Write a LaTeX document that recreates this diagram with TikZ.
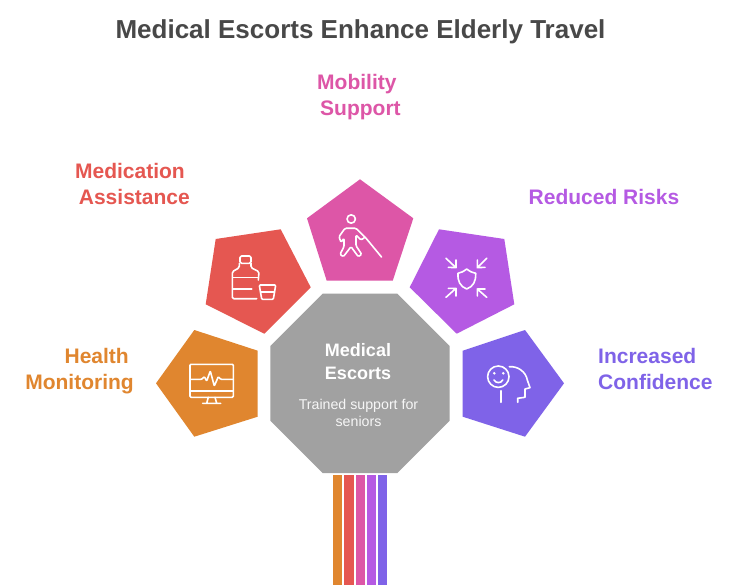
\documentclass[tikz,border=0pt]{standalone}
\usepackage{fontspec}
\setmainfont{Liberation Sans}
\definecolor{titlegray}{RGB}{72, 72, 72}
\definecolor{hubgray}{RGB}{161, 161, 161}
\definecolor{healthorange}{RGB}{224, 134, 47}
\definecolor{medred}{RGB}{229, 87, 81}
\definecolor{mobilitypink}{RGB}{221, 86, 167}
\definecolor{risksviolet}{RGB}{181, 90, 227}
\definecolor{confidenceblue}{RGB}{127, 99, 232}
\begin{document}
\begin{tikzpicture}[
    x=1pt, y=-1pt,
    labeltext/.style={font=\fontsize{21}{26}\selectfont\bfseries, text=#1, inner sep=0pt},
    icon/.style={draw=white, line width=1.6pt, line cap=round, line join=round}
]
    \useasboundingbox (0,0) rectangle (738,585);
    \fill[white] (0,0) rectangle (738,585);

    \node[font=\fontsize{26}{32}\selectfont\bfseries, text=titlegray, inner sep=0pt] (title) at (360.5,32) {Medical Escorts Enhance Elderly Travel};

    % centre octagon
    \fill[hubgray] (322.7,293.7) -- (397.3,293.7) -- (449.7,346) -- (449.7,420.7) -- (397.3,473) -- (322.7,473) -- (270.3,420.7) -- (270.3,346) -- cycle;
    \node[font=\fontsize{18}{23}\selectfont\bfseries, text=white, align=center, inner sep=0pt] (hub) at (358,362) {Medical\\Escorts};
    \node[font=\fontsize{14.2}{17.5}\selectfont, text=white!90!hubgray, align=center, inner sep=0pt] (hubtext) at (358.5,413) {Trained support for\\seniors};

    % pentagons
    \fill[healthorange] (194.3,330) -- (257.7,350.7) -- (257.7,416.7) -- (194.3,436.7) -- (156,383.3) -- cycle;
    \fill[medred] (215.7,239) -- (280.7,229.3) -- (310.7,287.3) -- (264.3,333.7) -- (205.7,304.3) -- cycle;
    \fill[mobilitypink] (360,179.3) -- (413.3,218.3) -- (392.7,280.7) -- (326.7,280.7) -- (307,218.3) -- cycle;
    \fill[risksviolet] (439,229.3) -- (504.3,239) -- (514.3,304.3) -- (456.7,333.7) -- (409.7,287.3) -- cycle;
    \fill[confidenceblue] (462.7,350.7) -- (525,330) -- (564,383.3) -- (525,436.7) -- (462.7,416.7) -- cycle;

    % bars
    \foreach \xa/\barcol in {333/healthorange, 344.3/medred, 355.7/mobilitypink, 366.7/risksviolet, 378/confidenceblue}
        \fill[\barcol] (\xa,475) rectangle ++(9.3,110);

    \node[labeltext=healthorange, align=right, anchor=east] (health) at (134,371.5) {Health\hspace*{5pt}\\Monitoring};
    \node[labeltext=medred, align=right, anchor=east] (medication) at (190,183.5) {Medication\hspace*{5pt}\\Assistance};
    \node[labeltext=mobilitypink, align=left, anchor=west] (mobility) at (317,97) {Mobility\\\hspace*{3pt}Support};
    \node[labeltext=risksviolet] (risks) at (604,196.5) {Reduced Risks};
    \node[labeltext=confidenceblue, align=left, anchor=west] (confidence) at (598,368.5) {Increased\\Confidence};

    % monitor icon
    \draw[icon, rounded corners=1pt] (190,364.3) rectangle (233.3,397.3);
    \draw[icon] (190,390.7) -- (233.3,390.7);
    \draw[icon, rounded corners=0.8pt] (190,379.3) -- (201.7,379.3) -- (204.3,376.7) -- (206.7,381) -- (210.3,371) -- (214.3,386) -- (218.3,376.7) -- (220.7,379.3) -- (233.3,379.3);
    \draw[icon] (208.3,397.3) -- (206.7,403.3) (215,397.3) -- (216.7,403.3) (202.7,403.3) -- (220.7,403.3);

    % bottle icon
    \draw[icon, rounded corners=1.5pt] (240,263.3) -- (240,256) -- (251,256) -- (251,263.3) -- cycle;
    \draw[icon, rounded corners=1.5pt] (239.3,263.3) -- (239.3,267.7) -- (232.3,271.7) -- (232.3,298.7) -- (256.7,298.7) (251,263.3) -- (251,267.7) -- (259,271.7) -- (258.3,280);
    \draw[icon] (233,277.3) -- (258,277.3) (233,289) -- (251.7,289);
    \draw[icon, rounded corners=1pt] (259.3,285) -- (275.7,285) -- (273.3,299.3) -- (261.7,299.3) -- cycle;
    \draw[icon] (260.5,291.7) -- (274.5,291.7);

    % walker icon
    \draw[icon] (351.2,219) circle (4.2);
    \draw[icon, rounded corners=1.2pt] (345,228.3) -- (339,236.7) -- (341,242.3) -- (344,238.3) -- (344,246.7) -- (340,254.3) -- (343.3,256.7) -- (351,246.7) -- (358.3,256.7) -- (361.7,254.3) -- (356,245.7) -- (356,235) -- (361,240) -- (365,237.3) -- (356,228.3) -- cycle;
    \draw[icon] (365,237) -- (381.5,257);

    % shield icon
    \draw[icon] (466.7,269) .. controls (463.5,271.5) and (461,272.8) .. (458,273.3) .. controls (457.5,281) and (460,286.5) .. (466.7,289) .. controls (473.5,286.5) and (476,281) .. (475.7,273.3) .. controls (472.5,272.8) and (470,271.5) .. (466.7,269) -- cycle;
    \draw[icon] (446,258.3) -- (456,267.7) (456,260) -- (456,267.7) -- (448.3,267.3);
    \draw[icon] (486.7,258.3) -- (477.3,267.7) (477.3,260) -- (477.3,267.7) -- (485,267.3);
    \draw[icon] (446,297.3) -- (456,288.3) (448.3,288.3) -- (456,288.3) -- (456,296);
    \draw[icon] (486.7,297.3) -- (477.3,289) (485,289) -- (477.3,289) -- (477.3,296);

    % face icon
    \draw[icon] (498.3,376.7) circle (10.7);
    \draw[icon] (494,380) .. controls (496,383.5) and (501,383.5) .. (502.7,380);
    \fill[white] (494.3,373.3) circle (1.4) (503.3,373.3) circle (1.4);
    \draw[icon] (500.7,390.7) -- (500.7,402.3);
    \draw[icon] (509.3,366.7) .. controls (518,366) and (526,372) .. (527.3,380) -- (530,387.7) -- (525,389) -- (525,397.3) -- (517.7,398.3) -- (517.7,402.3);
\end{tikzpicture}
\end{document}
